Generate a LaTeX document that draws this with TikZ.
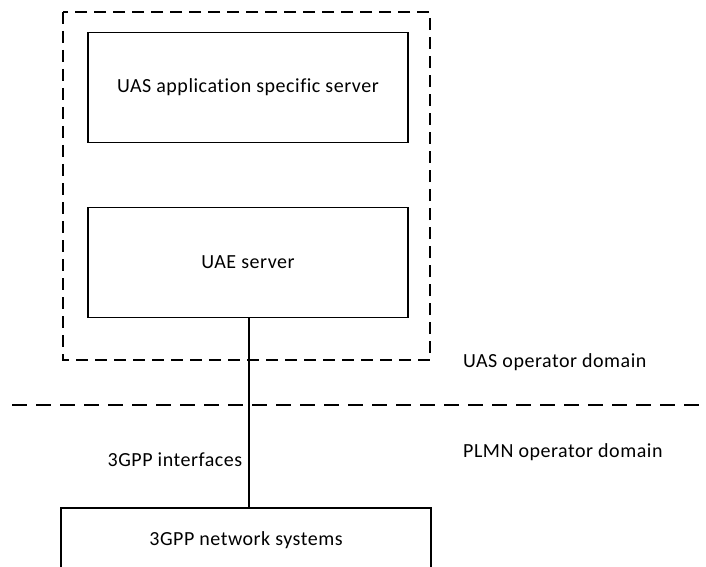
\documentclass[tikz,border=0pt]{standalone}
\usepackage{fontspec}
\setmainfont[LetterSpace=2.6,Ligatures=NoCommon]{Carlito}
\usepackage{tikz}
\usetikzlibrary{positioning,calc}
\tikzset{%
	block/.style      = {draw, rectangle, line width=1.2pt, minimum width=320pt, minimum height=110pt, text centered},
	uasbox/.style     = {draw, line width=1.3pt, dash pattern=on 12pt off 7pt},
	borderline/.style = {line width=2pt, dash pattern=on 15pt off 9pt},
	link/.style       = {line width=1.5pt},
	waypoint/.style   = {coordinate},
	caption/.style    = {anchor=west, inner sep=0pt},
}
\begin{document}
\begin{tikzpicture}[x=1pt,y=1pt,node distance=175pt,font=\fontsize{20}{24}\selectfont]
	\useasboundingbox (0,0) rectangle (706,566);
	\node [block] (app) at (248,478.5) {UAS application specific server};
	\node [block] (uae) [below of=app] {UAE server};
	\node [block, minimum width=370pt, minimum height=64pt] (net) at (246,26) {3GPP network systems};
	
	% UAS operator box
	\draw [uasbox] (63,554) rectangle (430,206);
	
	% domain border
	\node [waypoint] (bl) at (12,161) {};
	\node [waypoint] (br) at (700,161) {};
	\draw [borderline] (bl) -- (br);
	
	\draw [link] (uae.south -| 249,0) -- node[left, pos=0.75, inner sep=6pt] {3GPP interfaces} (net.north -| 249,0);
	
	\node [caption] (uasdom) at (463,204) {UAS operator domain};
	\node [caption] (plmndom) at (463,114) {PLMN operator domain};
\end{tikzpicture}
\end{document}
